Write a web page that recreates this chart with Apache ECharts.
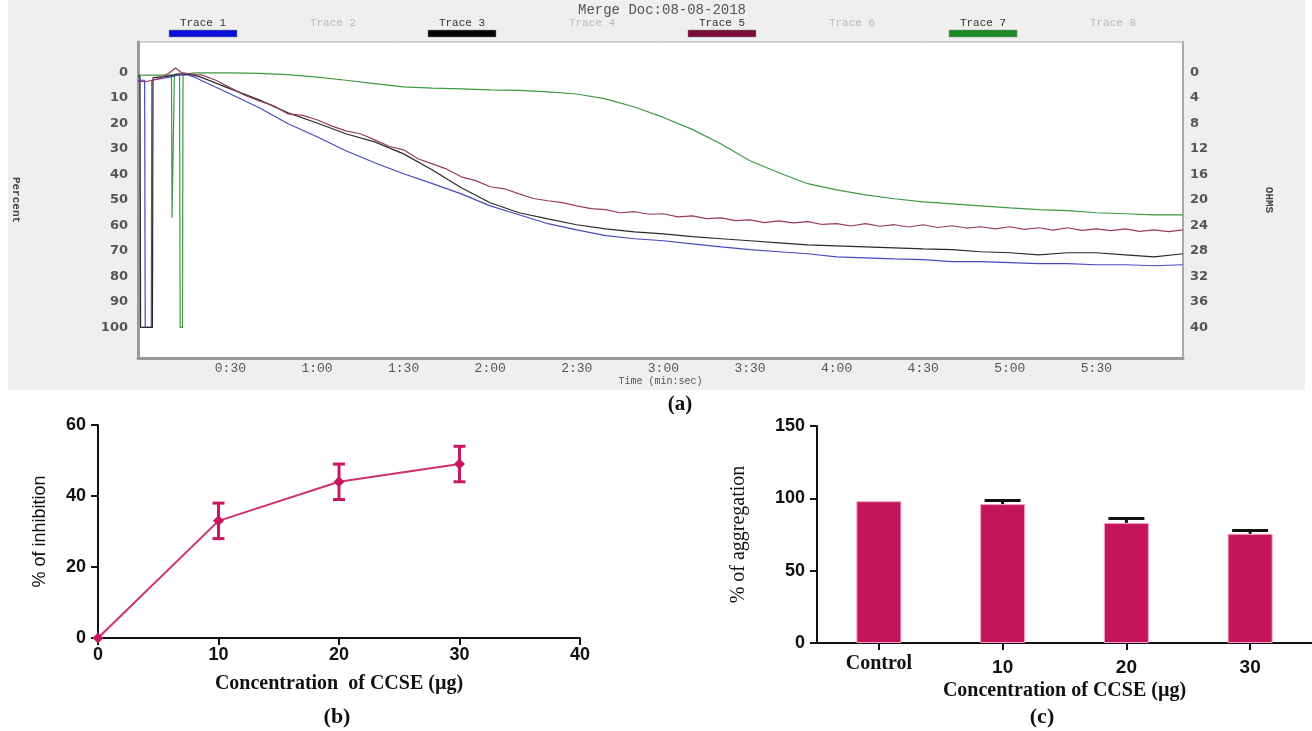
<!DOCTYPE html>
<html><head><meta charset="utf-8">
<script src="https://cdn.jsdelivr.net/npm/echarts@6/dist/echarts.min.js"></script>
<style>html,body{margin:0;padding:0;background:#fff}#c{width:1312px;height:731px}</style>
</head><body><div id="c"></div>
<script>
// ---------- Panel (a): aggregometer traces ----------
const traceNames   = ['Trace 1','Trace 2','Trace 3','Trace 4','Trace 5','Trace 6','Trace 7','Trace 8'];
const traceActive  = [true,false,true,false,true,false,true,false];
const traceSwatch  = ['#0a10d8',null,'#050505',null,'#7a0c38',null,'#1a8a22',null];
const timeTicks    = [30,60,90,120,150,180,210,240,270,300,330];
const percentTicks = [0,10,20,30,40,50,60,70,80,90,100];
const ohmsTicks    = [0,4,8,12,16,20,24,28,32,36,40];
const gridTime     = [20,30,40,50,60,70,80,90,100,110,120,130,140,150,160,170,180,190,200,210,220,230,240,250,260,270,280,290,300,310,320,330,340,350,360];

// Trace 1 (blue)
const trace1LeadT = [-2,0.3,0.5,2.6,2.8,8,12,15,18];
const trace1LeadP = [3,3,100,100,3,2,1,0.8,2];
const trace1P = [3.1,8.4,13.8,20.1,25.2,30.7,35.4,39.7,43.6,47.6,52.3,55.8,59.3,61.7,64.0,65.2,66.0,67.2,68.4,69.5,70.3,71.1,72.3,72.7,73.1,73.4,74.2,74.2,74.6,75.0,75.0,75.4,75.4,75.8,75.4];
// Trace 3 (black)
const trace3LeadT = [-2,-1.3,-1.1,3,3.2,8,12,15,18];
const trace3LeadP = [1.5,1.5,100,100,2,1.5,0.5,0.5,1.2];
const trace3P = [1.9,6.4,10.7,15.8,19.8,24.0,27.2,31.9,38.2,45.2,51.1,55.0,57.4,59.7,61.3,62.5,63.3,64.4,65.2,66.0,66.8,67.6,68.0,68.4,68.8,69.2,69.5,70.3,70.7,71.5,70.7,70.7,71.5,72.3,71.1];
// Trace 5 (maroon, noisy, 5 s steps)
const trace5LeadT = [-2,1,3,6,9,11,13,16,18];
const trace5LeadP = [3.5,3.5,3,2,0,-1.8,0,0.5,0.8];
const trace5T = [20,25,30,35,40,45,50,55,60,65,70,75,80,85,90,95,100,105,110,115,120,125,130,135,140,145,150,155,160,165,170,175,180,185,190,195,200,205,210,215,220,225,230,235,240,245,250,255,260,265,270,275,280,285,290,295,300,305,310,315,320,325,330,335,340,345,350,355,360];
const trace5P = [0.9,3.0,6.0,8.9,11.1,13.0,16.2,16.8,18.5,20.9,22.9,24.0,26.4,28.9,30.3,33.8,35.8,37.9,40.9,42.4,44.8,45.6,47.6,49.4,50.3,51.0,52.3,53.4,53.8,55.0,54.6,55.6,55.4,56.6,56.2,57.3,57.0,58.1,57.8,58.9,58.2,59.0,58.5,59.6,59.3,60.2,59.3,60.3,59.7,60.6,59.7,60.8,60.1,61.0,60.5,61.3,60.5,61.5,60.9,61.8,60.9,61.9,61.3,62.0,61.3,62.3,61.7,62.4,61.7];
// Trace 7 (green)
const trace7LeadT = [-2,9.6,9.8,10.4,10.6,12.4,12.6,13.4,13.6,16,18];
const trace7LeadP = [1,1,57,57,1,1,100,100,1,0.3,0.1];
const trace7P = [0.1,0.1,0.3,0.8,1.8,3.0,4.3,5.6,6.1,6.4,6.8,7.0,7.6,8.4,10.3,13.5,17.6,22.3,28.0,34.6,39.3,43.6,46.0,48.0,49.5,50.7,51.5,52.3,53.1,53.8,54.2,55.0,55.4,55.8,55.8];

// ---------- Panel (b): % inhibition ----------
const concB   = [0,10,20,30];
const inhib   = [0,33,44,49];
const inhibSd = [0,5,5,5];

// ---------- Panel (c): % aggregation ----------
const catsC    = ['Control','10','20','30'];
const aggr     = [98,96,83,75.5];
const aggrErr  = [0,2.5,3,2.2];

// ---------- build ----------
const zip = (ts, ps) => ts.map((t,i)=>[t, ps[i]]);
const t1 = zip(trace1LeadT, trace1LeadP).concat(zip(gridTime, trace1P));
const t3 = zip(trace3LeadT, trace3LeadP).concat(zip(gridTime, trace3P));
const t5 = zip(trace5LeadT, trace5LeadP).concat(zip(trace5T, trace5P));
const t7 = zip(trace7LeadT, trace7LeadP).concat(zip(gridTime, trace7P));

const MONO = "'Liberation Mono','DejaVu Sans Mono',monospace";
const SANS = "'Liberation Sans',Arial,sans-serif";
const SERIF = "'Liberation Serif','Times New Roman',serif";
const PINK = '#c8175e';

const legendX = [203,333,462,592,722,852,983,1113];
const graphics = [
  {type:'rect', z:-10, silent:true, shape:{x:8,y:0,width:1297,height:390}, style:{fill:'#efefef'}}
];
traceNames.forEach((n,i)=>{
  graphics.push({type:'text', x:legendX[i], y:23, style:{text:n, font:'11px '+MONO, fill: traceActive[i]?'#333':'#b8b8b8', textAlign:'center', textVerticalAlign:'middle'}});
  if (traceSwatch[i]) graphics.push({type:'rect', shape:{x:legendX[i]-34,y:30,width:68,height:7}, style:{fill:traceSwatch[i], stroke:'#888', lineWidth:0.5}});
});
graphics.push({type:'text', x:680, y:405, style:{text:'(a)', font:'bold 21px '+SERIF, fill:'#111', textAlign:'center', textVerticalAlign:'middle'}});
graphics.push({type:'text', x:337, y:717, style:{text:'(b)', font:'bold 22px '+SERIF, fill:'#111', textAlign:'center', textVerticalAlign:'middle'}});
graphics.push({type:'text', x:1042, y:717, style:{text:'(c)', font:'bold 22px '+SERIF, fill:'#111', textAlign:'center', textVerticalAlign:'middle'}});

const fmtTime = v => Math.floor(v/60)+':'+String(v%60).padStart(2,'0');
const noSplit = {show:false};

const option = {
  animation:false,
  backgroundColor:'#ffffff',
  title:{text:'Merge Doc:08-08-2018', left:662, top:3, padding:0, textAlign:'center', textStyle:{fontFamily:MONO, fontSize:14, lineHeight:14, fontWeight:'normal', color:'#555'}},
  graphic: graphics,
  grid:[
    {left:138, right:129, top:42, bottom:373, show:true, backgroundColor:'#fff', borderColor:'#aaa', borderWidth:1},
    {left:98, right:732, top:425, bottom:93},
    {left:817, right:-11, top:426, bottom:88}
  ],
  xAxis:[
    {gridIndex:0, type:'value', min:-2, max:360, splitLine:noSplit,
     axisLine:{show:true, onZero:false, lineStyle:{color:'#999', width:3}}, axisTick:{show:false},
     axisLabel:{customValues:timeTicks, formatter:fmtTime, fontFamily:MONO, fontSize:13, color:'#555', margin:4},
     name:'Time (min:sec)', nameLocation:'middle', nameGap:16, nameTextStyle:{fontFamily:MONO, fontSize:10, color:'#555'}},
    {gridIndex:1, type:'value', min:0, max:40, interval:10, splitLine:noSplit,
     axisLine:{show:true, onZero:false, lineStyle:{color:'#111', width:2}},
     axisTick:{show:true, length:7, lineStyle:{color:'#111', width:2}},
     axisLabel:{fontFamily:SANS, fontWeight:'bold', fontSize:18, color:'#111', margin:8},
     name:'Concentration  of CCSE (µg)', nameLocation:'middle', nameGap:36,
     nameTextStyle:{fontFamily:SERIF, fontWeight:'bold', fontSize:20, color:'#111'}},
    {gridIndex:2, type:'category', data:catsC, splitLine:noSplit,
     axisLine:{show:true, onZero:false, lineStyle:{color:'#111', width:2}},
     axisTick:{show:true, alignWithLabel:true, length:7, lineStyle:{color:'#111', width:2}},
     axisLabel:{margin:11, formatter: v => v==='Control' ? '{s|'+v+'}' : '{n|'+v+'}',
       rich:{s:{fontFamily:SERIF, fontWeight:'bold', fontSize:20, color:'#111'}, n:{fontFamily:SANS, fontWeight:'bold', fontSize:19, color:'#111', padding:[4,0,0,0]}}},
     name:'Concentration of CCSE (µg)', nameLocation:'middle', nameGap:38,
     nameTextStyle:{fontFamily:SERIF, fontWeight:'bold', fontSize:20, color:'#111'}}
  ],
  yAxis:[
    {gridIndex:0, type:'value', inverse:true, min:-12, max:112, position:'left', splitLine:noSplit,
     axisLine:{show:true, onZero:false, lineStyle:{color:'#999', width:3}}, axisTick:{show:false},
     axisLabel:{customValues:percentTicks, fontFamily:"'DejaVu Sans',sans-serif", fontWeight:'bold', fontSize:13, color:'#555', margin:10},
     name:'Percent', nameLocation:'middle', nameRotate:-90, nameGap:117,
     nameTextStyle:{fontFamily:MONO, fontWeight:'bold', fontSize:11, color:'#444'}},
    {gridIndex:0, type:'value', inverse:true, min:-4.8, max:44.8, position:'right', splitLine:noSplit,
     axisLine:{show:true, onZero:false, lineStyle:{color:'#aaa', width:2}}, axisTick:{show:false},
     axisLabel:{customValues:ohmsTicks, fontFamily:"'DejaVu Sans',sans-serif", fontWeight:'bold', fontSize:13, color:'#555', margin:7},
     name:'OHMS', nameLocation:'middle', nameRotate:-90, nameGap:80,
     nameTextStyle:{fontFamily:MONO, fontWeight:'bold', fontSize:11, color:'#444'}},
    {gridIndex:1, type:'value', min:0, max:60, interval:20, splitLine:noSplit,
     axisLine:{show:true, onZero:false, lineStyle:{color:'#111', width:2}},
     axisTick:{show:true, length:7, lineStyle:{color:'#111', width:2}},
     axisLabel:{fontFamily:SANS, fontWeight:'bold', fontSize:18, color:'#111', margin:12},
     name:'% of inhibition', nameLocation:'middle', nameGap:49,
     nameTextStyle:{fontFamily:SANS, fontSize:18, color:'#111'}},
    {gridIndex:2, type:'value', min:0, max:150, interval:50, splitLine:noSplit,
     axisLine:{show:true, onZero:false, lineStyle:{color:'#111', width:2}},
     axisTick:{show:true, length:7, lineStyle:{color:'#111', width:2}},
     axisLabel:{fontFamily:SANS, fontWeight:'bold', fontSize:18, color:'#111', margin:12},
     name:'% of aggregation', nameLocation:'middle', nameGap:68,
     nameTextStyle:{fontFamily:SERIF, fontSize:20, color:'#111'}}
  ],
  series:[
    {name:'Trace 1', type:'line', xAxisIndex:0, yAxisIndex:0, data:t1, showSymbol:false, lineStyle:{color:'#4848c0', width:1.2}, z:2},
    {name:'Trace 3', type:'line', xAxisIndex:0, yAxisIndex:0, data:t3, showSymbol:false, lineStyle:{color:'#2a2a2a', width:1.2}, z:3},
    {name:'Trace 5', type:'line', xAxisIndex:0, yAxisIndex:0, data:t5, showSymbol:false, lineStyle:{color:'#9a3a60', width:1.2}, z:4},
    {name:'Trace 7', type:'line', xAxisIndex:0, yAxisIndex:0, data:t7, showSymbol:false, lineStyle:{color:'#3c9a44', width:1.2}, z:1},
    {name:'inhibition', type:'line', xAxisIndex:1, yAxisIndex:2, data:zip(concB, inhib),
     symbol:'diamond', symbolSize:11, itemStyle:{color:PINK}, lineStyle:{color:'#d0306e', width:2}, z:4},
    {name:'inhibition SD', type:'custom', xAxisIndex:1, yAxisIndex:2, z:5,
     data: concB.map((c,i)=>[c, inhib[i]-inhibSd[i], inhib[i]+inhibSd[i]]),
     renderItem:(params, api)=>{
       const lo=api.value(1), hi=api.value(2);
       if (hi===lo) return null;
       const a=api.coord([api.value(0), lo]), b=api.coord([api.value(0), hi]);
       const w=6, st={stroke:PINK, lineWidth:3};
       return {type:'group', children:[
         {type:'line', shape:{x1:a[0],y1:a[1],x2:b[0],y2:b[1]}, style:st},
         {type:'line', shape:{x1:a[0]-w,y1:a[1],x2:a[0]+w,y2:a[1]}, style:st},
         {type:'line', shape:{x1:b[0]-w,y1:b[1],x2:b[0]+w,y2:b[1]}, style:st}
       ]};
     }},
    {name:'aggregation', type:'bar', xAxisIndex:2, yAxisIndex:3, data:aggr, barWidth:45,
     itemStyle:{color:'#c4155b', borderColor:'#f2a0c4', borderWidth:1}, z:2},
    {name:'aggregation SEM', type:'custom', xAxisIndex:2, yAxisIndex:3, z:3,
     data: catsC.map((c,i)=>[i, aggr[i], aggr[i]+aggrErr[i]]),
     renderItem:(params, api)=>{
       const lo=api.value(1), hi=api.value(2);
       if (hi===lo) return null;
       const a=api.coord([api.value(0), lo]), b=api.coord([api.value(0), hi]);
       const w=18, st={stroke:'#111', lineWidth:3};
       return {type:'group', children:[
         {type:'line', shape:{x1:a[0],y1:a[1],x2:b[0],y2:b[1]}, style:st},
         {type:'line', shape:{x1:b[0]-w,y1:b[1],x2:b[0]+w,y2:b[1]}, style:st}
       ]};
     }}
  ]
};
const chart = echarts.init(document.getElementById('c'), null, {renderer:'canvas'});
chart.setOption(option);
</script></body></html>
